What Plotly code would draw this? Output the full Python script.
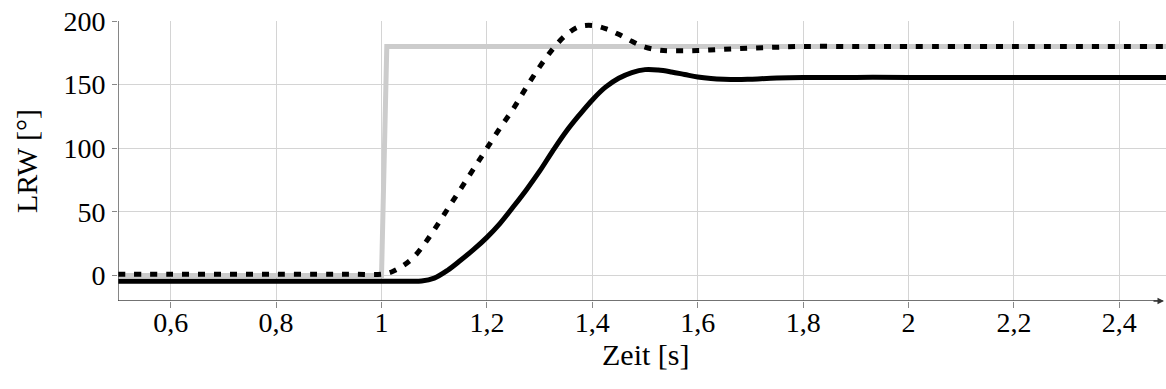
import plotly.graph_objects as go

# Setpoint (grey step)
ref_t = [0.5, 1.0, 1.01, 2.5]
ref_v = [0, 0, 180, 180]

# Dashed response
dash_t = [0.5, 0.6, 0.7, 0.8, 0.9, 0.95, 1.0, 1.02, 1.04, 1.06, 1.08, 1.10, 1.125, 1.15,
          1.175, 1.20, 1.225, 1.25, 1.275, 1.30, 1.325, 1.35, 1.375, 1.40, 1.425, 1.45,
          1.475, 1.50, 1.525, 1.55, 1.60, 1.65, 1.70, 1.75, 1.80, 1.9, 2.0, 2.2, 2.5]
dash_v = [1, 1, 1, 1, 1, 1, 1, 3, 7.5, 14, 24, 36, 52, 68,
          84, 100, 116, 131, 148, 164, 178, 189, 195.5, 196.5, 194, 189.5,
          184, 179.5, 177.3, 176.6, 176.8, 177.8, 178.7, 179.4, 180, 180, 180, 180, 180]

# Solid response
solid_t = [0.5, 0.6, 0.7, 0.8, 0.9, 1.0, 1.05, 1.076, 1.10, 1.125, 1.15, 1.175, 1.20,
           1.225, 1.25, 1.275, 1.30, 1.325, 1.35, 1.375, 1.40, 1.425, 1.45, 1.475, 1.50,
           1.525, 1.55, 1.575, 1.60, 1.625, 1.65, 1.675, 1.70, 1.75, 1.80, 1.9, 2.0,
           2.2, 2.5]
solid_v = [-4.5, -4.5, -4.5, -4.5, -4.5, -4.5, -4.5, -4.3, -2, 4, 12, 20.5, 30,
           41, 54, 67.5, 82, 98, 113, 126, 138, 148, 155, 159.5, 161.8,
           161.5, 160, 158, 156, 154.8, 154.2, 154, 154.3, 155.2, 155.6, 155.7, 155.7,
           155.7, 155.7]

x_ticks = [0.6, 0.8, 1.0, 1.2, 1.4, 1.6, 1.8, 2.0, 2.2, 2.4]
x_tick_labels = ["0,6", "0,8", "1", "1,2", "1,4", "1,6", "1,8", "2", "2,2", "2,4"]
y_ticks = [0, 50, 100, 150, 200]
y_tick_labels = ["0", "50", "100", "150", "200"]

XMIN, XMAX = 0.5, 2.4885
YMIN, YMAX = -20, 200
FONT = "Liberation Serif"

fig = go.Figure()
fig.add_trace(go.Scatter(x=ref_t, y=ref_v, mode="lines",
                         line=dict(color="#cccccc", width=5), showlegend=False))
fig.add_trace(go.Scatter(x=solid_t, y=solid_v, mode="lines", line_shape="spline",
                         line=dict(color="black", width=5), showlegend=False))
fig.add_trace(go.Scatter(x=dash_t, y=dash_v, mode="lines", line_shape="spline",
                         line=dict(color="black", width=5, dash="7px,9px"), showlegend=False))

fig.update_layout(
    width=1166, height=389,
    margin=dict(l=118, r=0, t=21, b=88),
    plot_bgcolor="white", paper_bgcolor="white",
    font=dict(family=FONT, size=28, color="black"),
    xaxis=dict(range=[XMIN, XMAX], tickvals=x_ticks, ticktext=x_tick_labels,
               tickfont=dict(family=FONT, size=28, color="black"),
               showgrid=True, gridcolor="#d4d4d4", gridwidth=1,
               ticks="outside", ticklen=6, tickcolor="#888888", tickwidth=1,
               showline=False, zeroline=False, ticklabelstandoff=-10, automargin=False),
    yaxis=dict(range=[YMIN, YMAX], tickvals=y_ticks, ticktext=y_tick_labels,
               tickfont=dict(family=FONT, size=28, color="black"),
               showgrid=True, gridcolor="#d4d4d4", gridwidth=1,
               ticks="outside", ticklen=5, tickcolor="#888888", tickwidth=1,
               showline=False, zeroline=False, ticklabelstandoff=1, automargin=False),
    shapes=[
        dict(type="line", xref="x", yref="y", x0=XMIN, y0=YMIN, x1=2.482, y1=YMIN,
             line=dict(color="#444444", width=1.3)),
        dict(type="line", xref="x", yref="y", x0=XMIN, y0=YMIN, x1=XMIN, y1=201,
             line=dict(color="#444444", width=1.3)),
    ],
    annotations=[
        dict(x=XMIN, y=202.5, xref="x", yref="y", ax=0, ay=12, showarrow=True,
             arrowhead=2, arrowsize=1, arrowwidth=1.3, arrowcolor="#333333", text=""),
        dict(x=2.4847, y=YMIN, xref="x", yref="y", ax=-12, ay=0, showarrow=True,
             arrowhead=2, arrowsize=1, arrowwidth=1.3, arrowcolor="#333333", text=""),
        dict(x=1.5, y=-0.19, xref="x", yref="paper", text="Zeit [s]", showarrow=False,
             xanchor="center", yanchor="middle", font=dict(family=FONT, size=30)),
        dict(x=-92 / 1048, y=0.5, xref="paper", yref="paper", text="LRW [°]",
             showarrow=False, textangle=-90, xanchor="center", yanchor="middle",
             font=dict(family=FONT, size=30)),
    ],
)

fig.write_html("out.html", config={"displayModeBar": False},
               post_script="document.body.style.margin='0';document.body.style.overflow='hidden';")
